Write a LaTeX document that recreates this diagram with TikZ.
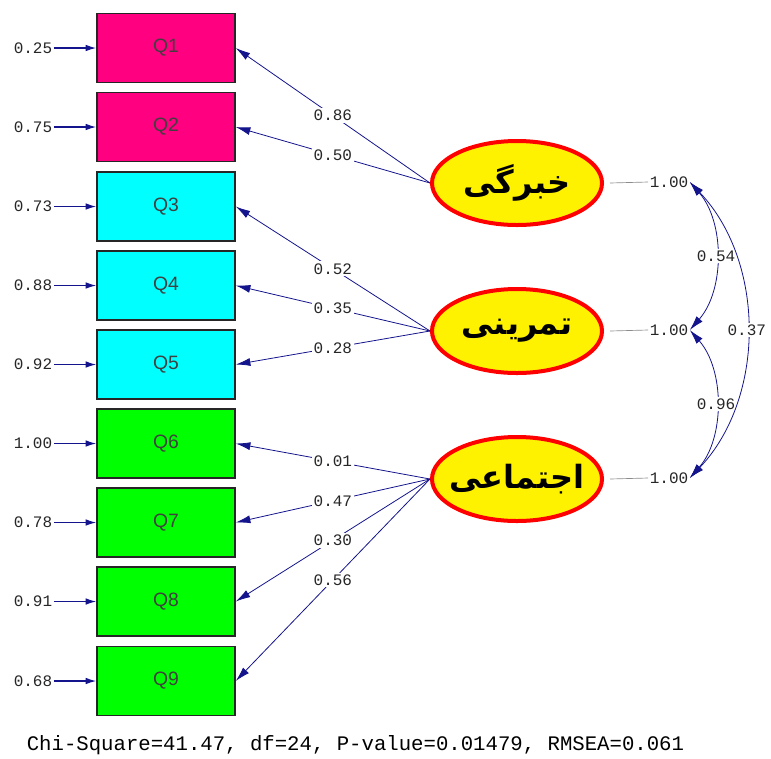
\documentclass[tikz,border=0pt]{standalone}
\usepackage{fontspec}
\setmainfont{Liberation Sans}
\newfontfamily\numfont{Liberation Mono}
\newfontfamily\farsifont[Script=Arabic]{DejaVu Sans}
\TeXXeTstate=1
\usetikzlibrary{arrows.meta,shapes.geometric}
\definecolor{qpink}{HTML}{FF0080}
\definecolor{qcyan}{HTML}{00FFFF}
\definecolor{qgreen}{HTML}{00FF00}
\definecolor{pathblue}{HTML}{14148C}
\newcommand{\latname}[1]{\makebox[0pt]{\beginR #1\endR}}
\begin{document}
\begin{tikzpicture}[x=0.75pt,y=-0.75pt,
every node/.style={inner sep=1pt},
obs/.style={draw=black!85,line width=1.1pt,minimum width=103.5pt,minimum height=51.75pt,
  font=\fontsize{14.5}{14.5}\selectfont,text=black!75},
latent/.style={ellipse,draw=red,fill=yellow,line width=3pt,minimum width=127.5pt,minimum height=63pt,
  font=\farsifont\bfseries\fontsize{24}{24}\selectfont},
num/.style={font=\numfont\fontsize{12}{12}\selectfont,text=black!85},
lbl/.style={num,fill=white,inner sep=1.5pt},
load/.style={draw=pathblue,line width=0.6pt,-{Latex[length=11pt,width=6pt]}},
err/.style={draw=pathblue,line width=1pt,-{Latex[length=8pt,width=5pt]}},
cov/.style={draw=pathblue,line width=0.6pt,{Latex[length=11pt,width=6pt]}-{Latex[length=11pt,width=6pt]}}]

\useasboundingbox (0,0) rectangle (771,758);

% observed variables
\node[obs,fill=qpink]  (q1) at (166,48)    {Q1};
\node[obs,fill=qpink]  (q2) at (166,127)   {Q2};
\node[obs,fill=qcyan]  (q3) at (166,206.5) {Q3};
\node[obs,fill=qcyan]  (q4) at (166,285.5) {Q4};
\node[obs,fill=qcyan]  (q5) at (166,364.5) {Q5};
\node[obs,fill=qgreen] (q6) at (166,443.5) {Q6};
\node[obs,fill=qgreen] (q7) at (166,522.5) {Q7};
\node[obs,fill=qgreen] (q8) at (166,601.5) {Q8};
\node[obs,fill=qgreen] (q9) at (166,681)   {Q9};

% error variances
\node[num] (e1) at (33,48)    {0.25};
\node[num] (e2) at (33,127)   {0.75};
\node[num] (e3) at (33,206.5) {0.73};
\node[num] (e4) at (33,285.5) {0.88};
\node[num] (e5) at (33,364.5) {0.92};
\node[num] (e6) at (33,443.5) {1.00};
\node[num] (e7) at (33,522.5) {0.78};
\node[num] (e8) at (33,601.5) {0.91};
\node[num] (e9) at (33,681)   {0.68};
\draw[err] (e1) -- (q1);
\draw[err] (e2) -- (q2);
\draw[err] (e3) -- (q3);
\draw[err] (e4) -- (q4);
\draw[err] (e5) -- (q5);
\draw[err] (e6) -- (q6);
\draw[err] (e7) -- (q7);
\draw[err] (e8) -- (q8);
\draw[err] (e9) -- (q9);

% latent variables
\node[latent] (f1) at (517,183) {\latname{خبرگی}};
\node[latent] (f2) at (517,331) {\latname{تمرینی}};
\node[latent] (f3) at (517,479) {\latname{اجتماعی}};

% loadings
\draw[load] (f1.west) -- node[lbl] {0.86} (q1.east);
\draw[load] (f1.west) -- node[lbl] {0.50} (q2.east);
\draw[load] (f2.west) -- node[lbl] {0.52} (q3.east);
\draw[load] (f2.west) -- node[lbl] {0.35} (q4.east);
\draw[load] (f2.west) -- node[lbl] {0.28} (q5.east);
\draw[load] (f3.west) -- node[lbl] {0.01} (q6.east);
\draw[load] (f3.west) -- node[lbl] {0.47} (q7.east);
\draw[load] (f3.west) -- node[lbl] {0.30} (q8.east);
\draw[load] (f3.west) -- node[lbl] {0.56} (q9.east);

% variances and covariances
\node[num] (v1) at (669,182) {1.00};
\node[num] (v2) at (669,330) {1.00};
\node[num] (v3) at (669,478) {1.00};
\draw[black!45,line width=0.5pt] (f1.east) ++(6,0) -- (v1.west);
\draw[black!45,line width=0.5pt] (f2.east) ++(6,0) -- (v2.west);
\draw[black!45,line width=0.5pt] (f3.east) ++(6,0) -- (v3.west);
\draw[cov] (v1.east) .. controls +(35,40) and +(35,-40) .. node[lbl] {0.54} (v2.east);
\draw[cov] (v2.east) .. controls +(35,40) and +(35,-40) .. node[lbl] {0.96} (v3.east);
\draw[cov] (v1.east) .. controls +(76,80) and +(76,-80) .. node[lbl] {0.37} (v3.east);

\node[font=\numfont\fontsize{15.5}{15.5}\selectfont] (fit) at (355.5,745)
  {Chi-Square=41.47, df=24, P-value=0.01479, RMSEA=0.061};
\end{tikzpicture}
\end{document}
